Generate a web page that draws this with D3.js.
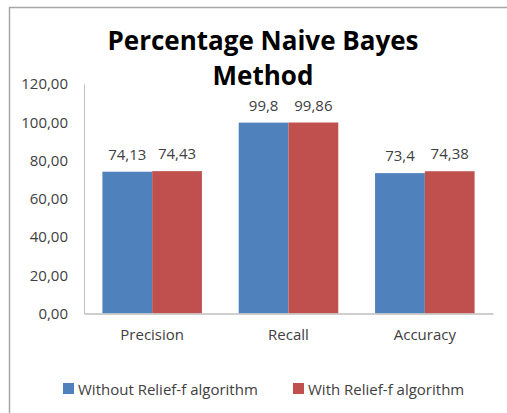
<!DOCTYPE html>
<html>
<head>
<meta charset="utf-8">
<script src="https://cdn.jsdelivr.net/npm/d3@7"></script>
<style>
body { margin: 0; background: #fff; }
text { font-family: "Open Sans", sans-serif; }
</style>
</head>
<body>
<script>
// chart values
var categories = ['Precision', 'Recall', 'Accuracy'];
var seriesNames = ['Without Relief-f algorithm', 'With Relief-f algorithm'];
var withoutRelief = [74.13, 99.8, 73.4];
var withRelief = [74.43, 99.86, 74.38];
var labelsWithout = ['74,13', '99,8', '73,4'];
var labelsWith = ['74,43', '99,86', '74,38'];
var yTicks = [0, 20, 40, 60, 80, 100, 120];

var colors = ['#4F81BD', '#C0504D'];

var width = 507;
var height = 413;
var fs = 15;

var svg = d3.select('body').append('svg')
  .attr('width', width).attr('height', height);

// chart frame (cut off at right and bottom)
svg.append('path')
  .attr('d', 'M9.5,' + (height + 2) + 'V7.5H' + (width + 2))
  .attr('fill', 'none').attr('stroke', '#a6a6a6').attr('stroke-width', 1.5);

// title
var title = svg.append('text').attr('text-anchor', 'middle')
  .attr('font-size', 26).attr('font-weight', 'bold').attr('fill', '#000');
title.append('tspan').attr('x', 263).attr('y', 50).text('Percentage Naive Bayes');
title.append('tspan').attr('x', 263).attr('y', 85).text('Method');

var plotLeft = 84, plotRight = 493, plotTop = 84, plotBottom = 313.5;

var x = d3.scaleBand().domain(categories).range([plotLeft, plotRight])
  .paddingInner(0.27).paddingOuter(0.135);
var xs = d3.scaleBand().domain([0, 1]).range([0, x.bandwidth()]);
var y = d3.scaleLinear().domain([0, 120]).range([plotBottom, plotTop]);

var rows = categories.map(function(c, i) {
  return {cat: c, vals: [withoutRelief[i], withRelief[i]], labs: [labelsWithout[i], labelsWith[i]]};
});

// y axis
var yAxis = svg.append('g').attr('transform', 'translate(' + plotLeft + ',0)')
  .call(d3.axisLeft(y).tickValues(yTicks).tickSize(0).tickPadding(16)
    .tickFormat(function(d) { return d3.format('.2f')(d).replace('.', ','); }));
yAxis.select('.domain').attr('stroke', '#bfbfbf').attr('stroke-width', 1);
yAxis.selectAll('text').attr('font-size', fs).attr('fill', '#404040')
  .attr('font-family', '"Open Sans", sans-serif');

// bars
var groups = svg.selectAll('g.grp').data(rows).enter().append('g')
  .attr('class', 'grp')
  .attr('transform', function(d) { return 'translate(' + x(d.cat) + ',0)'; });

groups.selectAll('rect').data(function(d) { return d.vals; }).enter().append('rect')
  .attr('x', function(d, i) { return xs(i); })
  .attr('y', function(d) { return y(d); })
  .attr('width', xs.bandwidth())
  .attr('height', function(d) { return y(0) - y(d); })
  .attr('fill', function(d, i) { return colors[i]; });

groups.selectAll('text').data(function(d) { return d.vals.map(function(v, i) { return {v: v, l: d.labs[i]}; }); })
  .enter().append('text')
  .attr('x', function(d, i) { return xs(i) + xs.bandwidth() / 2; })
  .attr('y', function(d) { return y(d.v) - 12; })
  .attr('text-anchor', 'middle')
  .attr('font-size', fs).attr('fill', '#404040')
  .text(function(d) { return d.l; });

// x axis
var xAxis = svg.append('g').attr('transform', 'translate(0,' + plotBottom + ')')
  .call(d3.axisBottom(x).tickSize(0).tickPadding(16));
xAxis.select('.domain').attr('stroke', '#bfbfbf').attr('stroke-width', 1.5);
xAxis.selectAll('text').attr('font-size', fs).attr('fill', '#404040')
  .attr('font-family', '"Open Sans", sans-serif');

// legend
var legendX = [63, 293];
var legend = svg.selectAll('g.leg').data(seriesNames).enter().append('g')
  .attr('class', 'leg')
  .attr('transform', function(d, i) { return 'translate(' + legendX[i] + ',389)'; });
legend.append('rect').attr('x', 0).attr('y', -6).attr('width', 11).attr('height', 11)
  .attr('fill', function(d, i) { return colors[i]; });
legend.append('text').attr('x', 15).attr('y', 5.5)
  .attr('font-size', fs).attr('fill', '#404040')
  .text(function(d) { return d; });
</script>
</body>
</html>
